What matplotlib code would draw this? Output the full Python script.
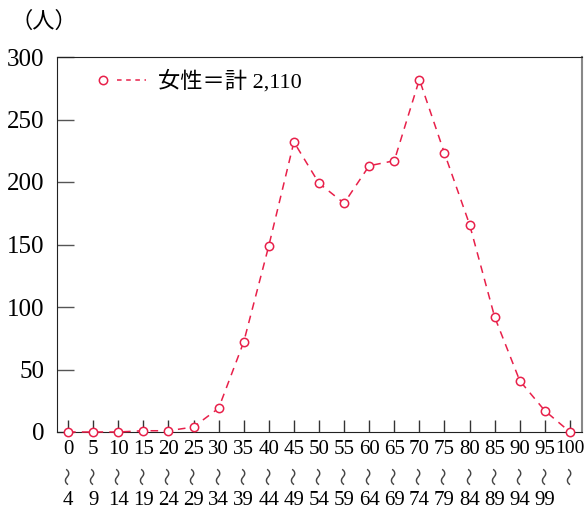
import matplotlib.pyplot as plt
from matplotlib.legend_handler import HandlerTuple
from matplotlib.lines import Line2D

# age groups (lower / upper bound) and counts of women
age_lo = ['0', '5', '10', '15', '20', '25', '30', '35', '40', '45', '50',
          '55', '60', '65', '70', '75', '80', '85', '90', '95', '100']
age_hi = ['4', '9', '14', '19', '24', '29', '34', '39', '44', '49', '54',
          '59', '64', '69', '74', '79', '84', '89', '94', '99', '']
women = [0, 0, 0, 1, 1, 4, 19, 72, 149, 232, 199, 183, 213, 217, 282,
         223, 166, 92, 41, 17, 0]
yticks = [0, 50, 100, 150, 200, 250, 300]
legend_label = '女性＝計 2,110'

red = '#e8204a'
fams = ['Liberation Serif', 'DejaVu Sans', 'Noto Sans CJK JP']
cjk = ['Noto Sans CJK JP', 'DejaVu Sans']

fig = plt.figure(figsize=(5.84, 5.12), dpi=100)
ax = fig.add_axes([57 / 584, 80 / 512, 525 / 584, 375 / 512])

x = list(range(len(women)))
ax.plot(x, women, color=red, lw=1.1, ls=(0, (5, 4)), marker='o', ms=6,
        mfc='white', mec=red, mew=1.1, clip_on=False, zorder=3)

ax.set_xlim(-0.44, 20.48)
ax.set_ylim(0, 300)
ax.set_yticks(yticks)
ax.set_yticklabels([str(v) for v in yticks], family=fams, fontsize=18)
ax.set_xticks(x)
ax.set_xticklabels(age_lo, family=fams, fontsize=15, va='top')
# the last group label sits against the frame edge, keep it a bit smaller
ax.get_xticklabels()[-1].set_fontsize(14)
ax.tick_params(axis='x', direction='in', length=9, width=1, color='#333333', pad=6)
ax.tick_params(axis='y', direction='in', length=12, width=1, color='#555555', pad=9)

# the "〜" and upper bound rows under each group label
for xi, hi in zip(x, age_hi):
    ax.annotate('〜', (xi, 0), xycoords=('data', 'axes fraction'),
                xytext=(0.5, -31.5), textcoords='offset points',
                rotation=90, ha='center', va='center', family=cjk,
                fontsize=13, color='#444444', annotation_clip=False)
    if hi:
        ax.annotate(hi, (xi, 0), xycoords=('data', 'axes fraction'),
                    xytext=(0, -49.5), textcoords='offset points',
                    ha='center', va='center', family=fams, fontsize=15,
                    annotation_clip=False)

for s in ['left', 'top', 'bottom']:
    ax.spines[s].set_color('#222222')
ax.spines['right'].set_color('#888888')
ax.spines['right'].set_linewidth(1.5)

fig.text(11 / 584, 1 - 22 / 512, '（人）', family=fams, fontsize=16,
         va='center', ha='left')

h_mark = Line2D([], [], ls='none', marker='o', ms=6, mfc='white', mec=red, mew=1.1)
h_line = Line2D([], [], color=red, lw=1.1, ls=(0, (3, 3)))
ax.legend([(h_mark, h_line)], [legend_label],
          handler_map={tuple: HandlerTuple(ndivide=None, pad=0)},
          loc='upper left', bbox_to_anchor=(0.06, 0.965), frameon=False,
          borderaxespad=0, borderpad=0,
          handlelength=2.6, handletextpad=0.55,
          prop={'family': fams, 'size': 16})

fig.savefig('out.png', dpi=100)
